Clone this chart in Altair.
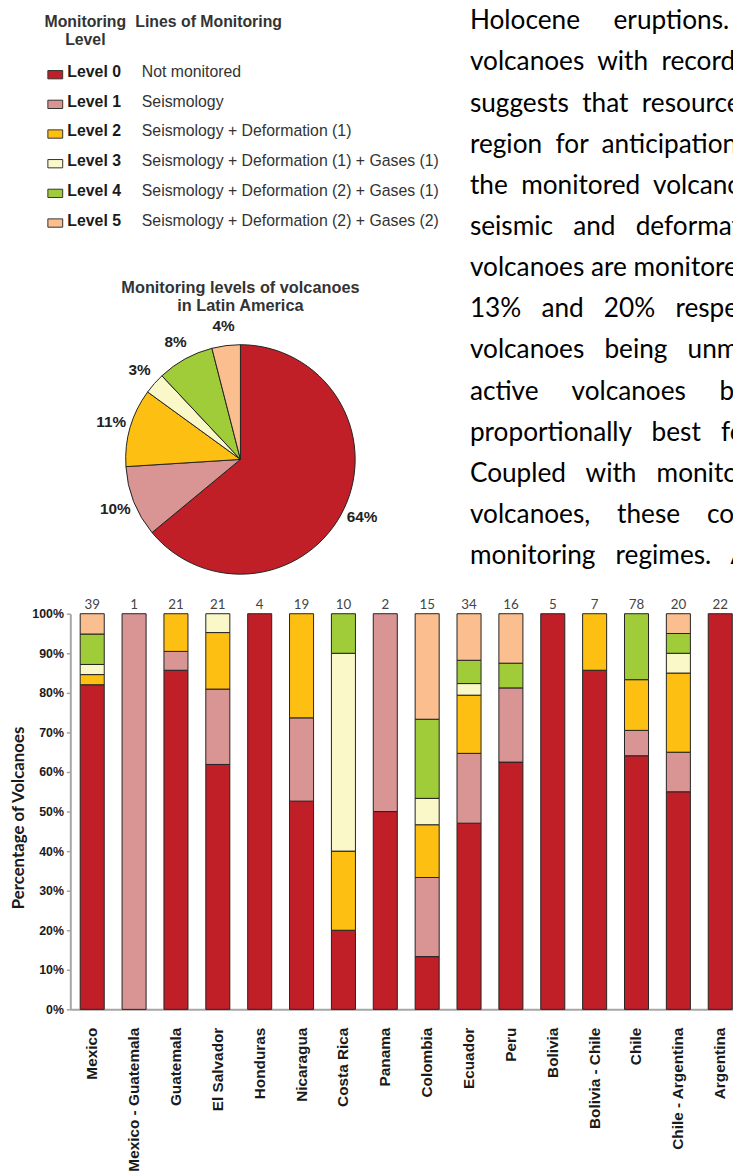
import altair as alt
import pandas as pd

# ---------------- data ----------------
levels = ["Level 0", "Level 1", "Level 2", "Level 3", "Level 4", "Level 5"]
level_desc = [
    "Not monitored",
    "Seismology",
    "Seismology + Deformation (1)",
    "Seismology + Deformation (1) + Gases (1)",
    "Seismology + Deformation (2) + Gases (1)",
    "Seismology + Deformation (2) + Gases (2)",
]
level_colors = ["#C01F28", "#D99594", "#FDBF12", "#FAF7C9", "#A0CC3A", "#FBBF8F"]

pie_percent = [64, 10, 11, 3, 8, 4]

regions = ["Mexico", "Mexico - Guatemala", "Guatemala", "El Salvador", "Honduras",
           "Nicaragua", "Costa Rica", "Panama", "Colombia", "Ecuador", "Peru",
           "Bolivia", "Bolivia - Chile", "Chile", "Chile - Argentina", "Argentina"]
region_totals = [39, 1, 21, 21, 4, 19, 10, 2, 15, 34, 16, 5, 7, 78, 20, 22]
level0 = [32, 0, 18, 13, 4, 10, 2, 1, 2, 16, 10, 5, 6, 50, 11, 22]
level1 = [0, 1, 1, 4, 0, 4, 0, 1, 3, 6, 3, 0, 0, 5, 2, 0]
level2 = [1, 0, 2, 3, 0, 5, 2, 0, 2, 5, 0, 0, 1, 10, 4, 0]
level3 = [1, 0, 0, 1, 0, 0, 5, 0, 1, 1, 0, 0, 0, 0, 1, 0]
level4 = [3, 0, 0, 0, 0, 0, 1, 0, 3, 2, 1, 0, 0, 13, 1, 0]
level5 = [2, 0, 0, 0, 0, 0, 0, 0, 4, 4, 2, 0, 0, 0, 1, 0]

body_lines = [
    "Holocene eruptions.",
    "volcanoes with recorded",
    "suggests that resources",
    "region for anticipation",
    "the monitored volcanoes",
    "seismic and deformation",
    "volcanoes are monitored",
    "13% and 20% respectively",
    "volcanoes being unmonitored",
    "active volcanoes being",
    "proportionally best for",
    "Coupled with monitoring",
    "volcanoes, these could",
    "monitoring regimes. A",
]
# word gaps (in spaces) imitating the justified paragraph
body_gaps = [5, 2, 2, 2, 2, 3, 1, 3, 3, 5, 3, 3, 4, 3]

# ---------------- frames ----------------
legend_df = pd.DataFrame({"level": levels, "desc": level_desc})
pie_df = pd.DataFrame({"level": levels, "pct": pie_percent, "idx": list(range(6)),
                       "label": [f"{p}%" for p in pie_percent]})
rows = []
for li, arr in enumerate([level0, level1, level2, level3, level4, level5]):
    for r, c in zip(regions, arr):
        if c > 0:
            rows.append({"region": r, "level": levels[li], "idx": li, "count": c})
bar_df = pd.DataFrame(rows)
tot_df = pd.DataFrame({"region": regions, "total": region_totals})
body_df = pd.DataFrame({
    "line": list(range(len(body_lines))),
    "txt": [("\u00a0" * g).join(s.split(" ")) for s, g in zip(body_lines, body_gaps)],
})
one = pd.DataFrame({"a": [0]})

color_scale = alt.Scale(domain=levels, range=level_colors)
SANS = "Liberation Sans"

# The layered view's plot area is the bar chart's plot area;
# the legend, pie and paragraph sit in the padding above it.

# ---------------- bars ----------------
xscale = alt.Scale(type="band", domain=regions, paddingInner=0.426, paddingOuter=0.127, align=0.93)
yscale = alt.Scale(domain=[0, 1])
xaxis = alt.Axis(title=None, ticks=False, domainColor="#A6A6A6",
                 domainWidth=2, labelAngle=-90, labelFont=SANS, labelFontWeight="bold",
                 labelFontSize=15.5, labelColor="#1a1a1a", labelPadding=18,
                 labelOverlap=False, labelLimit=400)
yaxis = alt.Axis(title="Percentage of Volcanoes",
                 values=[i / 10 for i in range(11)], format=".0%", grid=False,
                 domainColor="#A6A6A6", domainWidth=2, tickColor="#A6A6A6", tickSize=4,
                 tickWidth=1.5, labelFont=SANS, labelFontWeight="bold", labelFontSize=12.5,
                 labelColor="#1a1a1a", labelPadding=3,
                 titleFont="Lato", titleFontWeight="bold", titleFontSize=17, titleColor="#1a1a1a",
                 titleX=-52, titleY=206, titleAngle=270, titleAlign="center",
                 titleBaseline="middle")
bars = alt.Chart(bar_df).mark_bar(stroke="#222", strokeWidth=1).encode(
    x=alt.X("region:N", sort=regions, scale=xscale, axis=xaxis),
    y=alt.Y("count:Q", stack="normalize", scale=yscale, axis=yaxis),
    color=alt.Color("level:N", scale=color_scale, legend=None),
    order=alt.Order("idx:Q", sort="ascending"),
)
counts = alt.Chart(tot_df).mark_text(dy=-5, baseline="alphabetic", align="center", font="Lato",
                                     fontSize=13.5, color="#444").encode(
    x=alt.X("region:N", sort=regions, scale=xscale, axis=None),
    y=alt.YDatum(1, scale=yscale, axis=None),
    text="total:Q",
)

# ---------------- legend ----------------
sw_y = alt.Y("level:N", scale=alt.Scale(type="point", domain=levels, range=[-545, -395], padding=0), axis=None)
tx_y = alt.Y("level:N", scale=alt.Scale(type="point", domain=levels, range=[-547.5, -397.5], padding=0), axis=None)
leg_base = alt.Chart(legend_df)
swatch = leg_base.mark_point(
    shape="M-1,-0.56L1,-0.56L1,0.56L-1,0.56Z", size=225, filled=True,
    stroke="#333", strokeWidth=1, opacity=1
).encode(x=alt.value(-15.2), y=sw_y, color=alt.Color("level:N", scale=color_scale, legend=None))
lev_lab = leg_base.mark_text(align="left", baseline="middle", font=SANS, fontWeight="bold",
                             fontSize=16, color="#1a1a1a").encode(x=alt.value(-3), y=tx_y, text="level:N")
desc_lab = leg_base.mark_text(align="left", baseline="middle", font=SANS, fontSize=16,
                              color="#333").encode(x=alt.value(72.3), y=tx_y, text="desc:N")


def label(txt, x, y, size=16, weight="bold", align="center", color="#333", font=SANS):
    return alt.Chart(one).mark_text(text=txt, align=align, baseline="alphabetic", font=font,
                                    fontSize=size, fontWeight=weight, color=color
                                    ).encode(x=alt.value(x), y=alt.value(y))


hdr1 = label("Monitoring", 15.2, -593)
hdr2 = label("Level", 15.2, -575)
hdr3 = label("Lines of Monitoring", 65.7, -593, align="left")

# ---------------- pie ----------------
pie_base = alt.Chart(pie_df).encode(
    theta=alt.Theta("pct:Q", stack=True),
    order=alt.Order("idx:Q", sort="ascending"),
    detail="level:N",
)
arc = pie_base.mark_arc(outerRadius=116, stroke="#222", strokeWidth=1).encode(
    x=alt.value(172), y=alt.value(-156),
    color=alt.Color("level:N", scale=color_scale, legend=None))
arc_lab = pie_base.mark_text(radius=136, align="center", baseline="middle", font=SANS,
                             fontSize=15.5, fontWeight="bold").encode(
    x=alt.value(172), y=alt.value(-156), text="label:N", color=alt.value("#222"))
pt1 = label("Monitoring levels of volcanoes", 172, -324, size=16.5)
pt2 = label("in Latin America", 172, -306, size=16.5)

# ---------------- paragraph ----------------
body = alt.Chart(body_df).mark_text(align="left", baseline="alphabetic", font="Lato",
                                    fontSize=26.5, color="#000").encode(
    x=alt.value(404),
    y=alt.Y("line:Q", scale=alt.Scale(domain=[0, 13], range=[-591, -50]), axis=None),
    text="txt:N")

chart = alt.layer(
    bars, counts, swatch, lev_lab, desc_lab, hdr1, hdr2, hdr3, arc, arc_lab, pt1, pt2, body
).resolve_scale(x="independent", y="independent").properties(
    width=670, height=400, autosize=alt.AutoSizeParams(type="none"),
    padding={"left": 63, "top": 606, "right": 0, "bottom": 157}
).configure_view(stroke=None)

chart.save("out.html", embed_options={"renderer": "svg", "actions": False})
